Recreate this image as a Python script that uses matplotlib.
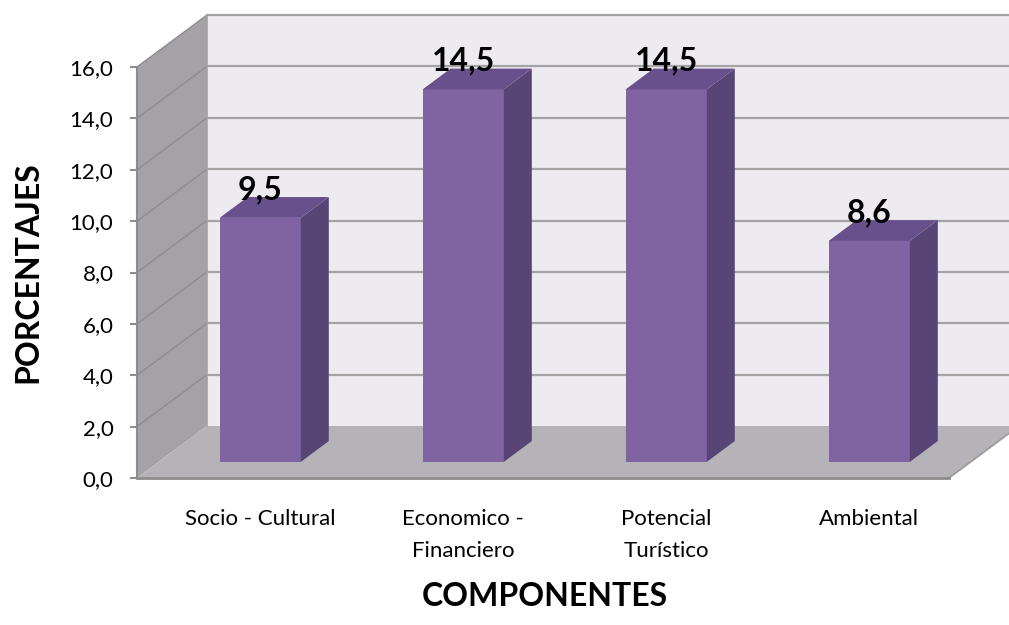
import numpy as np
import matplotlib.pyplot as plt
from matplotlib.patches import Polygon
from matplotlib.lines import Line2D
from matplotlib.transforms import IdentityTransform, ScaledTranslation

# datos del grafico
componentes = ['Socio - Cultural', 'Economico -\nFinanciero', 'Potencial\nTurístico', 'Ambiental']
porcentajes = [9.5, 14.5, 14.5, 8.6]
etiquetas = ['9,5', '14,5', '14,5', '8,6']
ticks_y = np.arange(0, 17, 2)

plt.rcParams['font.family'] = ['Lato', 'DejaVu Sans']

fig = plt.figure(figsize=(10.09, 6.25), dpi=100)
ax = fig.add_axes([137 / 1009, 147 / 625, 812 / 1009, 411 / 625])
ax.set_xlim(0, 4)
ax.set_ylim(0, 16)
ax.patch.set_visible(False)

# desplazamiento de profundidad (pixeles) para el efecto 3D
DEPTH = np.array([70.0, 52.0])


def proj(x, y, d):
    return ax.transData.transform((x, y)) + d * DEPTH


def face(pts, color, z, ec='none', lw=0):
    poly = Polygon([proj(*p) for p in pts], closed=True, facecolor=color,
                   edgecolor=ec, linewidth=lw, transform=IdentityTransform(),
                   clip_on=False, zorder=z)
    ax.add_patch(poly)


def line(p, q, color, lw, z):
    a, b = proj(*p), proj(*q)
    ax.add_line(Line2D([a[0], b[0]], [a[1], b[1]], color=color, linewidth=lw,
                       transform=IdentityTransform(), clip_on=False, zorder=z))


# paredes y piso
face([(0, 0, 1), (4, 0, 1), (4, 16, 1), (0, 16, 1)], '#EEEBF0', 0.1)
face([(0, 0, 0), (0, 0, 1), (0, 16, 1), (0, 16, 0)], '#A4A2A6', 0.2)
face([(0, 0, 0), (4, 0, 0), (4, 0, 1), (0, 0, 1)], '#B5B3B7', 0.3)

for t in ticks_y[1:]:
    line((0, t, 1), (4, t, 1), '#A3A3A3', 1.6, 0.4)
    line((0, t, 0), (0, t, 1), '#8E8C90', 1.0, 0.4)
line((0, 0, 1), (0, 16, 1), '#A3A3A3', 1.2, 0.4)
line((4, 0, 0), (4, 0, 1), '#9A9A9A', 1.2, 0.4)

# barras
d0, d1, w = 0.31, 0.71, 0.2
for i, v in enumerate(porcentajes):
    xc = i + 0.5
    x0, x1 = xc - w, xc + w
    face([(x0, 0, d0), (x1, 0, d0), (x1, v, d0), (x0, v, d0)], '#8064A2', 2)
    face([(x1, 0, d0), (x1, 0, d1), (x1, v, d1), (x1, v, d0)], '#584575', 2)
    face([(x0, v, d0), (x1, v, d0), (x1, v, d1), (x0, v, d1)], '#67508B', 2)
    ax.annotate(etiquetas[i], xy=(xc, v), xytext=(d0 * DEPTH[0], d1 * DEPTH[1] - 2),
                textcoords='offset pixels', ha='center', va='baseline',
                fontsize=23, fontweight='bold', zorder=3)

# ejes
for s in ['top', 'right']:
    ax.spines[s].set_visible(False)
ax.spines['left'].set_color('#8C8C8C')
ax.spines['left'].set_linewidth(1.5)
ax.spines['bottom'].set_color('#8C8C8C')
ax.spines['bottom'].set_linewidth(2)
ax.spines['left'].set_zorder(1)
ax.spines['bottom'].set_zorder(1)

ax.set_yticks(ticks_y)
ax.set_yticklabels([f'{t:.1f}'.replace('.', ',') for t in ticks_y])
ax.tick_params(axis='y', length=5, width=1.5, color='#8C8C8C', pad=12, labelsize=16)

ax.set_xticks(np.arange(len(componentes)) + 0.5)
ax.set_xticklabels(componentes)
ax.tick_params(axis='x', length=0, pad=22, labelsize=16)
shift = ScaledTranslation(d0 * DEPTH[0] / 100, 0, fig.dpi_scale_trans)
for lab in ax.get_xticklabels():
    lab.set_transform(lab.get_transform() + shift)
    lab.set_linespacing(1.8)

fig.text(28 / 1009, 1 - 272 / 625, 'PORCENTAJES', rotation=90, ha='center',
         va='center', fontsize=23, fontweight='bold')
fig.text(545 / 1009, 1 - 597 / 625, 'COMPONENTES', ha='center', va='center',
         fontsize=23, fontweight='bold')

fig.savefig('out.png', dpi=100)
